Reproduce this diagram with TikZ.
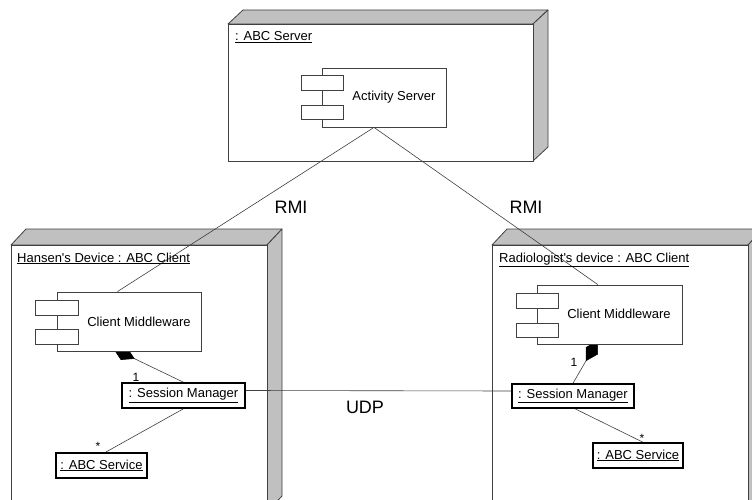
\documentclass[tikz,border=0pt]{standalone}
\usepackage{fontspec}
\setmainfont{Liberation Sans}
\usetikzlibrary{arrows.meta,calc}
\pgfdeclarelayer{back}
\pgfdeclarelayer{mid}
\pgfsetlayers{back,mid,main}
\definecolor{edgec}{HTML}{404040}
\definecolor{sidec}{HTML}{C0C0C0}
% device box: x1 y1 x2 y2 (front face), depth dx dy
\newcommand{\udevbox}[6]{%
  \fill[sidec,draw=edgec,line width=0.8pt,line join=round] (#1,#2) -- (#1+#5,#2-#6) -- (#3+#5,#2-#6) -- (#3,#2) -- cycle;
  \fill[sidec,draw=edgec,line width=0.8pt,line join=round] (#3,#2) -- (#3+#5,#2-#6) -- (#3+#5,#4-#6) -- (#3,#4) -- cycle;
  \fill[white,draw=edgec,line width=0.8pt] (#1,#2) rectangle (#3,#4);
}
\tikzset{
  comp/.style={draw=edgec, fill=white, line width=0.8pt, inner sep=0pt},
  obj/.style={draw=black, fill=white, line width=1.5pt, inner sep=0pt,
    font=\fontsize{13}{15}\selectfont},
  lbl/.style={inner sep=0pt, font=\fontsize{13}{15}\selectfont},
  biglbl/.style={inner sep=0pt, font=\fontsize{18}{20}\selectfont},
  mult/.style={inner sep=0pt, font=\fontsize{12}{14}\selectfont},
  conn/.style={draw=edgec, line width=0.6pt},
  compo/.style={conn, -{Diamond[length=24pt,width=14pt,color=black]}},
}
\begin{document}
\begin{tikzpicture}[x=1pt,y=-1pt]
\useasboundingbox (0,0) rectangle (752,500);

\begin{pgfonlayer}{back}
  \fill[white] (0,0) rectangle (752,500);
  \udevbox{228}{24}{533}{161}{15}{14}
  \udevbox{11}{245}{267}{512}{15}{16}
  \udevbox{492}{245}{748}{512}{15}{16}
\end{pgfonlayer}

% device labels
\node[lbl, anchor=base west] (srvlbl) at (235,41) {\underline{: ABC Server}};
\node[lbl, anchor=base west] (hanlbl) at (17,262) {\underline{Hansen\textquotesingle s Device : ABC Client}};
\node[lbl, anchor=base west] (radlbl) at (499,262) {\underline{Radiologist\textquotesingle s device : ABC Client}};

% Activity Server component
\node[comp, minimum width=124pt, minimum height=59pt] (as) at (384,97.5) {};
\node[comp, minimum width=42pt, minimum height=15pt] (asp1) at (322,82.5) {};
\node[comp, minimum width=42pt, minimum height=14pt] (asp2) at (322,112) {};
\node[lbl] (astxt) at (394,97) {Activity Server};

% Left Client Middleware
\node[comp, minimum width=144pt, minimum height=59pt] (cm1) at (129,321.5) {};
\node[comp, minimum width=43pt, minimum height=15pt] (cm1p1) at (56.5,307.5) {};
\node[comp, minimum width=43pt, minimum height=15pt] (cm1p2) at (56.5,336.5) {};
\node[lbl] (cm1txt) at (139,322) {Client Middleware};

% Right Client Middleware
\node[comp, minimum width=145pt, minimum height=59pt] (cm2) at (609.5,314.5) {};
\node[comp, minimum width=42pt, minimum height=15pt] (cm2p1) at (537,300.5) {};
\node[comp, minimum width=42pt, minimum height=14pt] (cm2p2) at (537,330) {};
\node[lbl] (cm2txt) at (619,314) {Client Middleware};

% Objects
\node[obj, minimum width=123pt, minimum height=25pt] (sm1) at (183.5,395.5) {\underline{: Session Manager}};
\node[obj, minimum width=122pt, minimum height=24pt] (sm2) at (573,396) {\underline{: Session Manager}};
\node[obj, minimum width=91pt, minimum height=25pt] (svc1) at (101.5,465.5) {\underline{: ABC Service}};
\node[obj, minimum width=90pt, minimum height=25pt] (svc2) at (638,455.5) {\underline{: ABC Service}};

% Labels
\node[biglbl] (rmi1) at (291,207) {RMI};
\node[biglbl] (rmi2) at (526,207) {RMI};
\node[biglbl] (udp) at (365,407) {UDP};
\node[mult] (m1a) at (136,377) {1};
\node[mult] (m1b) at (98,446) {*};
\node[mult] (m2a) at (574,362) {1};
\node[mult] (m2b) at (642,438) {*};

\begin{pgfonlayer}{mid}
  \draw[conn] ($(as.south west)!0.42!(as.south east)$) -- ($(cm1.north west)!0.42!(cm1.north east)$);
  \draw[conn] ($(as.south west)!0.42!(as.south east)$) -- ($(cm2.north west)!0.42!(cm2.north east)$);
  \draw[conn] ($(sm1.east)+(0,-5)$) -- ($(sm2.west)+(0,-5)$);
  \draw[compo] (sm1.north) -- ($(cm1.south west)!0.39!(cm1.south east)+(0,-3)$);
  \draw[compo] (sm2.north) -- ($(cm2.south west)!0.42!(cm2.south east)+(0,-4)$);
  \draw[conn] (sm1.south) -- ($(svc1.north)+(4,0)$);
  \draw[conn] ($(sm2.south)+(2,0)$) -- ($(svc2.north)+(5,0)$);
\end{pgfonlayer}
\end{tikzpicture}
\end{document}
